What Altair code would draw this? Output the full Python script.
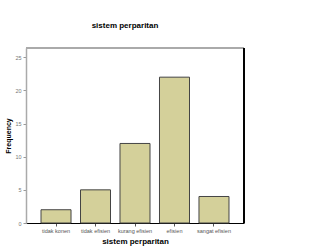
import altair as alt
import pandas as pd

categories = ["tidak konen", "tidak efisien", "kurang efisien", "efisien", "sangat efisien"]
frequency = [2, 5, 12, 22, 4]
y_ticks = [0, 5, 10, 15, 20, 25]

df = pd.DataFrame({"kategori": categories, "frekuensi": frequency})

y_scale = alt.Scale(domain=[0, 26.4], nice=False, zero=True)
x_scale = alt.Scale(domain=categories, paddingInner=0.24, paddingOuter=0.38)

bars = alt.Chart(df).mark_bar(
    color="#D4D09A", stroke="#444444", strokeWidth=1
).encode(
    x=alt.X("kategori:N", scale=x_scale, sort=categories,
            axis=alt.Axis(title="sistem perparitan", labelAngle=0,
                          labelFontSize=5.5, labelColor="#555555",
                          labelFont="Liberation Sans", labelPadding=2.5,
                          tickSize=3, tickColor="#555555",
                          domainColor="#000000", domainWidth=1.2,
                          titleFontSize=8, titleFont="Liberation Sans",
                          titleFontWeight="bold", titlePadding=3)),
    y=alt.Y("frekuensi:Q", scale=y_scale,
            axis=alt.Axis(title="Frequency", values=y_ticks, grid=False,
                          labelFontSize=5.5, labelColor="#777777",
                          labelFont="Liberation Sans", labelPadding=2,
                          tickSize=3, tickColor="#999999",
                          domainColor="#AAAAAA", domainWidth=1.5,
                          titleFontSize=7, titleFont="Liberation Sans",
                          titleFontWeight="bold", titlePadding=3)),
)

# top and right edges of the frame
top_edge = alt.Chart(df).mark_rule(color="#AAAAAA", strokeWidth=1.5).encode(
    x=alt.value(0), x2=alt.value(218), y=alt.value(0)
)
right_edge = alt.Chart(df).mark_rule(color="#000000", strokeWidth=1.2).encode(
    x=alt.value(218), y=alt.value(0), y2=alt.value(175)
)

chart = alt.layer(bars, top_edge, right_edge).properties(
    width=218,
    height=175,
    autosize=alt.AutoSizeParams(type="none"),
    padding={"left": 26, "top": 48, "right": 76, "bottom": 27},
    title=alt.TitleParams("sistem perparitan", fontSize=8, font="Liberation Sans",
                          fontWeight="bold", anchor="middle", dx=-10, offset=17),
).configure_view(stroke=None).configure(background="white")

chart.save("out.html", embed_options={"renderer": "svg", "actions": False})
